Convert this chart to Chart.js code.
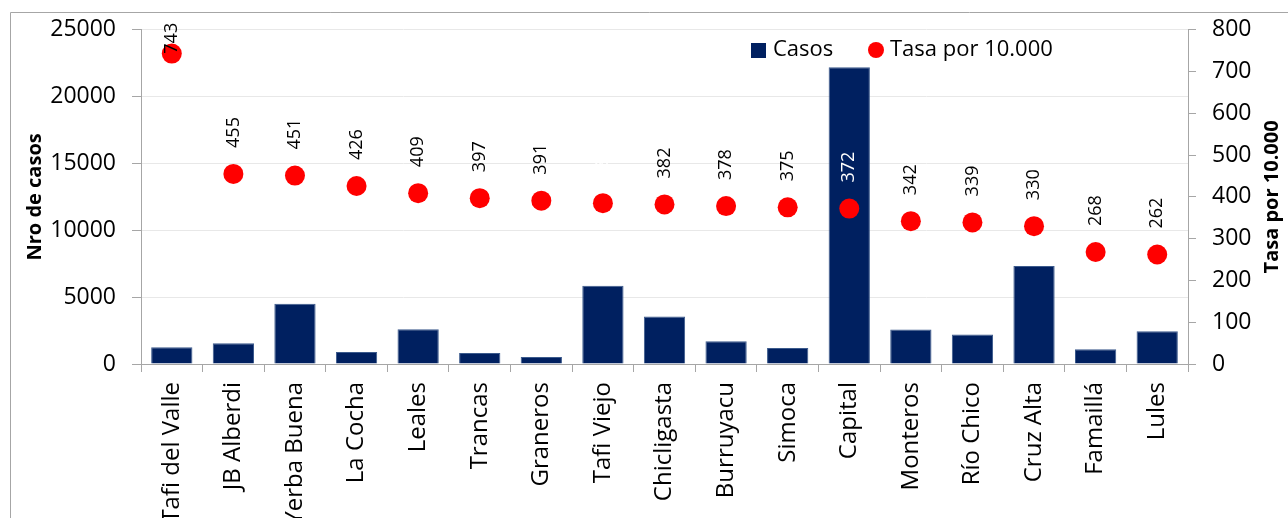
<!DOCTYPE html>
<html>
<head>
<meta charset="utf-8">
<script src="https://cdn.jsdelivr.net/npm/chart.js@4.4.1/dist/chart.umd.min.js"></script>
<style>
  html, body { margin: 0; padding: 0; background: #fff; overflow: hidden; }
  #wrap { position: relative; width: 1288px; height: 518px; }
</style>
</head>
<body>
<div id="wrap"><canvas id="chart" width="1288" height="518"></canvas></div>
<script>
const departamentos = [
  "Tafi del Valle", "JB Alberdi", "Yerba Buena", "La Cocha", "Leales", "Trancas",
  "Graneros", "Tafi Viejo", "Chicligasta", "Burruyacu", "Simoca", "Capital",
  "Monteros", "Río Chico", "Cruz Alta", "Famaillá", "Lules"
];
const casos = [1245, 1545, 4505, 900, 2600, 825, 525, 5855, 3550, 1700, 1200, 22200, 2575, 2200, 7340, 1100, 2450];
const tasa = [743, 455, 451, 426, 409, 397, 391, 385, 382, 378, 375, 372, 342, 339, 330, 268, 262];

const FONT = "'Open Sans', sans-serif";
const BLUE = "#002060";
const RED = "#ff0000";
const AXIS = "#a6a6a6";

// white labels (hidden on white / shown on the bar) like the original
const whiteLabels = [7, 11];

const extras = {
  id: "extras",
  beforeDraw(chart) {
    const ctx = chart.ctx;
    ctx.save();
    ctx.strokeStyle = "#a6a6a6";
    ctx.lineWidth = 1;
    ctx.beginPath();
    ctx.moveTo(10.5, 600);
    ctx.lineTo(10.5, 12.5);
    ctx.lineTo(1300, 12.5);
    ctx.stroke();
    ctx.restore();
  },
  afterDatasetsDraw(chart) {
    const ctx = chart.ctx;
    const area = chart.chartArea;
    const meta = chart.getDatasetMeta(1);
    ctx.save();
    ctx.font = "18px " + FONT;
    ctx.textAlign = "left";
    ctx.textBaseline = "middle";
    meta.data.forEach((pt, i) => {
      const txt = String(tasa[i]);
      const w = ctx.measureText(txt).width;
      let bottom = pt.y - 26;
      if (bottom - w < area.top - 7) bottom = area.top - 7 + w;
      ctx.fillStyle = whiteLabels.includes(i) ? "#ffffff" : "#000000";
      ctx.save();
      ctx.translate(pt.x, bottom);
      ctx.rotate(-Math.PI / 2);
      ctx.fillText(txt, 0, 0);
      ctx.restore();
    });

    // legend
    ctx.font = "22px " + FONT;
    ctx.textBaseline = "middle";
    ctx.fillStyle = BLUE;
    ctx.fillRect(751, 43, 15, 15);
    ctx.fillStyle = "#000";
    ctx.fillText(chart.data.datasets[0].label, 773, 50);
    ctx.fillStyle = RED;
    ctx.beginPath();
    ctx.arc(876, 50, 8, 0, Math.PI * 2);
    ctx.fill();
    ctx.fillStyle = "#000";
    ctx.fillText(chart.data.datasets[1].label, 890, 50);

    // axis titles
    const midY = (area.top + area.bottom) / 2;
    ctx.font = "bold 20px " + FONT;
    ctx.textAlign = "center";
    ctx.save();
    ctx.translate(35, midY);
    ctx.rotate(-Math.PI / 2);
    ctx.fillText("Nro de casos", 0, 0);
    ctx.restore();
    ctx.save();
    ctx.translate(1272, midY);
    ctx.rotate(-Math.PI / 2);
    ctx.fillText("Tasa por 10.000", 0, 0);
    ctx.restore();
    ctx.restore();
  }
};

new Chart(document.getElementById("chart"), {
  type: "bar",
  data: {
    labels: departamentos,
    datasets: [
      {
        label: "Casos",
        data: casos,
        backgroundColor: BLUE,
        borderColor: "#3b5a8c",
        borderWidth: 1,
        yAxisID: "y",
        barPercentage: 0.67,
        categoryPercentage: 1,
        order: 2
      },
      {
        type: "line",
        label: "Tasa por 10.000",
        data: tasa,
        showLine: false,
        pointRadius: 10,
        pointBackgroundColor: RED,
        pointBorderWidth: 0,
        yAxisID: "y1",
        order: 1
      }
    ]
  },
  options: {
    responsive: false,
    animation: false,
    devicePixelRatio: 1,
    layout: { padding: { top: 29, left: 0, right: 0, bottom: 0 } },
    plugins: { legend: { display: false }, tooltip: { enabled: false } },
    scales: {
      x: {
        offset: true,
        afterFit(scale) { scale.height = 154; },
        grid: { offset: true, drawOnChartArea: false, color: AXIS, tickLength: 8 },
        border: { color: AXIS },
        ticks: {
          autoSkip: false, minRotation: 90, maxRotation: 90, padding: 10,
          color: "#000", font: { family: FONT, size: 24 }
        }
      },
      y: {
        position: "left",
        min: 0, max: 25000,
        afterFit(scale) { scale.width = 141; },
        grid: { color: "#e8e8e8", tickColor: AXIS, tickLength: 9 },
        border: { color: AXIS },
        ticks: {
          stepSize: 5000, padding: 16, color: "#000", font: { family: FONT, size: 23 },
          callback: (v) => String(v)
        }
      },
      y1: {
        position: "right",
        min: 0, max: 800,
        afterFit(scale) { scale.width = 100; },
        grid: { drawOnChartArea: false, color: AXIS, tickLength: 8 },
        border: { color: AXIS },
        ticks: { stepSize: 100, padding: 16, color: "#000", font: { family: FONT, size: 23 } }
      }
    }
  },
  plugins: [extras]
});
</script>
</body>
</html>
